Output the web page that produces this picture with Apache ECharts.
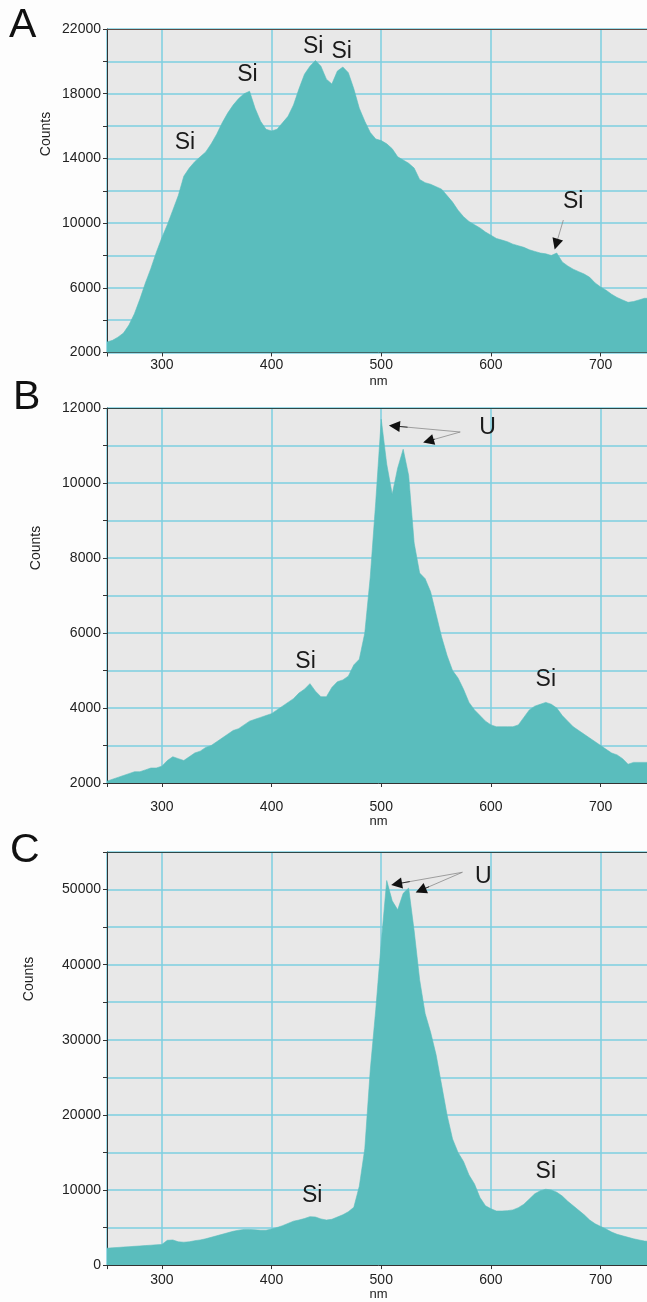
<!DOCTYPE html>
<html>
<head>
<meta charset="utf-8">
<script src="https://cdn.jsdelivr.net/npm/echarts@6/dist/echarts.min.js"></script>
<style>
  html, body { margin: 0; padding: 0; overflow: hidden; background: #fdfdfd; }
  #chart { width: 660px; height: 1302px; }
</style>
</head>
<body>
<div id="chart"></div>
<script>
// wavelength (nm) shared by the three spectra
const nm = [250, 255, 260, 265, 270, 275, 280, 285, 290, 295,
  300, 305, 310, 315, 320, 325, 330, 335, 340, 345,
  350, 355, 360, 365, 370, 375, 380, 385, 390, 395,
  400, 405, 410, 415, 420, 425, 430, 435, 440, 445,
  450, 455, 460, 465, 470, 475, 480, 485, 490, 495,
  500, 505, 510, 515, 520, 525, 530, 535, 540, 545,
  550, 555, 560, 565, 570, 575, 580, 585, 590, 595,
  600, 605, 610, 615, 620, 625, 630, 635, 640, 645,
  650, 655, 660, 665, 670, 675, 680, 685, 690, 695,
  700, 705, 710, 715, 720, 725, 730, 735, 740, 745];

const countsA = [2650, 2750, 2950, 3200, 3700, 4400, 5300, 6300, 7200, 8200,
  9100, 9900, 10800, 11700, 12900, 13400, 13800, 14100, 14400, 14900,
  15500, 16200, 16800, 17300, 17700, 18000, 18150, 17100, 16300, 15800,
  15700, 15800, 16200, 16600, 17300, 18300, 19200, 19700, 20050, 19700,
  18900, 18600, 19400, 19650, 19300, 18300, 17100, 16300, 15600, 15200,
  15100, 14900, 14600, 14100, 13900, 13700, 13400, 12700, 12500, 12400,
  12250, 12100, 11700, 11300, 10800, 10400, 10100, 9900, 9700, 9450,
  9250, 9050, 8950, 8850, 8700, 8600, 8500, 8350, 8250, 8150,
  8100, 8000, 8150, 7600, 7350, 7150, 7000, 6850, 6650, 6300,
  6050, 5850, 5600, 5400, 5250, 5100, 5150, 5250, 5350, 5350];

const countsB = [2050, 2100, 2150, 2200, 2250, 2300, 2300, 2350, 2400, 2400,
  2450, 2600, 2700, 2650, 2600, 2700, 2800, 2850, 2950, 3000,
  3100, 3200, 3300, 3400, 3450, 3550, 3650, 3700, 3750, 3800,
  3850, 3950, 4050, 4150, 4250, 4400, 4500, 4650, 4450, 4300,
  4300, 4550, 4700, 4750, 4850, 5150, 5300, 6000, 7500, 9500,
  11700, 10500, 9700, 10400, 10900, 10200, 8400, 7600, 7450, 7100,
  6500, 5900, 5400, 5000, 4800, 4500, 4150, 3950, 3800, 3650,
  3550, 3500, 3500, 3500, 3500, 3550, 3750, 3950, 4050, 4100,
  4150, 4100, 4000, 3800, 3650, 3500, 3400, 3300, 3200, 3100,
  3000, 2900, 2800, 2750, 2650, 2500, 2550, 2550, 2550, 2550];

const countsC = [2250, 2300, 2350, 2400, 2450, 2500, 2550, 2600, 2650, 2700,
  2750, 3300, 3350, 3100, 3050, 3100, 3250, 3350, 3500, 3700,
  3900, 4100, 4300, 4500, 4650, 4750, 4750, 4700, 4650, 4650,
  4800, 5000, 5250, 5550, 5850, 6000, 6200, 6450, 6400, 6150,
  6000, 6100, 6400, 6700, 7100, 7700, 10500, 15500, 26000, 34000,
  43000, 51200, 48500, 47300, 49500, 50200, 44500, 38000, 33500, 31000,
  28000, 24000, 20000, 16800, 15000, 13800, 12000, 10800, 9000, 7900,
  7500, 7200, 7200, 7250, 7350, 7650, 8100, 8800, 9500, 9900,
  10100, 10000, 9700, 9200, 8500, 7900, 7300, 6700, 6000, 5500,
  5150, 4800, 4400, 4100, 3900, 3700, 3500, 3350, 3200, 3150];

// tick labels
const xLabels = [300, 400, 500, 600, 700];
const yLabelsA = [2000, 6000, 10000, 14000, 18000, 22000];
const yLabelsB = [2000, 4000, 6000, 8000, 10000, 12000];
const yLabelsC = [0, 10000, 20000, 30000, 40000, 50000];

// peak annotations [nm, counts]
const siA = [[321, 14950], [378, 19200], [438, 20900], [464, 20570], [675, 11300]];
const siB = [[431, 5230], [650, 4750]];
const siC = [[437, 9280], [650, 12450]];
const uB = [[597, 11470]];
const uC = [[593, 51700]];
// arrows [from, to]
const arrowsA = [[[666, 10190], [659.5, 8700]]];
const arrowsB = [[[572, 11360], [512, 11520]], [[572, 11360], [543, 11120]]];
const arrowsC = [[[574, 52300], [514, 50750]], [[574, 52300], [536, 49900]]];

const FONT = '"Liberation Sans", Arial, sans-serif';
const TEAL = '#5abdbd';
const GRIDLINE = '#7dcfe0';

let myChart = echarts.init(document.getElementById('chart'), null, { renderer: 'canvas' });

// thin grey shaft + short black piece carrying the arrow head
function arrowLines(list) {
  const out = [];
  list.forEach(([from, to]) => {
    out.push([
      { coord: from, symbol: 'none', lineStyle: { color: '#8a8a8a', width: 0.8, type: 'solid' } },
      { coord: to, symbol: 'none' }
    ]);
    const near = [from[0] + (to[0] - from[0]) * 0.8, from[1] + (to[1] - from[1]) * 0.8];
    out.push([
      { coord: near, symbol: 'none', lineStyle: { color: '#111', width: 0.8, type: 'solid' } },
      { coord: to, symbol: 'triangle', symbolSize: 11 }
    ]);
  });
  return out;
}

function labelPoints(list, text) {
  return list.map(p => ({ coord: p, name: text }));
}

const panels = [
  { top: 29, height: 323.5, min: 2000, max: 22000, step: 2000, labels: yLabelsA, data: countsA,
    marks: labelPoints(siA, 'Si'), arrows: arrowsA, topColor: '#5e4b45', labelMargin: 6, nameGap: 22 },
  { top: 408, height: 375, min: 2000, max: 12000, step: 1000, labels: yLabelsB, data: countsB,
    marks: labelPoints(siB, 'Si').concat(labelPoints(uB, 'U')), arrows: arrowsB, topColor: '#2e4848', labelMargin: 17, nameGap: 30 },
  { top: 852, height: 415, min: 0, max: 55000, step: 5000, labels: yLabelsC, data: countsC,
    marks: labelPoints(siC, 'Si').concat(labelPoints(uC, 'U')), arrows: arrowsC, topColor: '#2e4848', labelMargin: 8, nameGap: 21 }
];

const grids = [], xAxes = [], yAxes = [], series = [];

panels.forEach((p, i) => {
  grids.push({
    left: 107, width: 543, top: p.top, height: p.height,
    show: true, backgroundColor: '#e8e8e8', borderWidth: 0
  });
  xAxes.push({
    type: 'value', gridIndex: i, position: 'bottom', min: 250, max: 745,
    minInterval: 100, maxInterval: 100,
    name: 'nm', nameLocation: 'middle', nameGap: p.nameGap,
    nameTextStyle: { fontFamily: FONT, fontSize: 13, color: '#222' },
    axisLine: { show: true, onZero: false, lineStyle: { color: '#333', width: 1 } },
    axisTick: { show: true, length: 4, lineStyle: { color: '#333' } },
    axisLabel: {
      margin: p.labelMargin, fontFamily: FONT, fontSize: 14, color: '#222',
      formatter: v => xLabels.includes(v) ? String(v) : ''
    },
    splitLine: { show: true, lineStyle: { color: GRIDLINE, width: 1.5 } }
  });
  xAxes.push({
    type: 'value', gridIndex: i, position: 'top', min: 250, max: 745,
    axisLine: { show: true, onZero: false, lineStyle: { color: p.topColor, width: 1.2 } },
    axisTick: { show: false }, axisLabel: { show: false }, splitLine: { show: false }
  });
  yAxes.push({
    type: 'value', gridIndex: i, min: p.min, max: p.max, interval: p.step,
    axisLine: { show: true, lineStyle: { color: '#333', width: 1 } },
    axisTick: { show: true, length: 4, lineStyle: { color: '#333' } },
    axisLabel: {
      margin: 6, fontFamily: FONT, fontSize: 14, color: '#222',
      formatter: v => p.labels.includes(v) ? String(v) : ''
    },
    splitLine: { show: true, lineStyle: { color: GRIDLINE, width: 1.5 } }
  });
  series.push({
    type: 'line', xAxisIndex: i * 2, yAxisIndex: i,
    data: nm.map((x, j) => [x, p.data[j]]),
    symbol: 'none', showSymbol: false,
    lineStyle: { width: 0.6, color: TEAL },
    areaStyle: { color: TEAL, opacity: 1, origin: 'start' },
    markPoint: {
      silent: true, symbol: 'circle', symbolSize: 1,
      itemStyle: { color: 'rgba(0,0,0,0)' },
      label: { show: true, position: 'inside', formatter: '{b}', fontFamily: FONT, fontSize: 23, color: '#1a1a1a' },
      data: p.marks
    },
    markLine: {
      silent: true, animation: false, label: { show: false },
      data: arrowLines(p.arrows)
    }
  });
});

const textStyle = (text, size, extra) => Object.assign({ text: text, fontFamily: FONT, fontSize: size, fill: '#111' }, extra);

myChart.setOption({
  animation: false,
  grid: grids,
  xAxis: xAxes,
  yAxis: yAxes,
  series: series,
  graphic: [
    { type: 'text', x: 9, y: 26, style: textStyle('A', 41, { verticalAlign: 'middle' }) },
    { type: 'text', x: 13, y: 398, style: textStyle('B', 41, { verticalAlign: 'middle' }) },
    { type: 'text', x: 10, y: 851, style: textStyle('C', 41, { verticalAlign: 'middle' }) },
    { type: 'text', x: 46, y: 134, rotation: Math.PI / 2, style: textStyle('Counts', 14, { align: 'center', verticalAlign: 'middle', fill: '#222' }) },
    { type: 'text', x: 36, y: 548, rotation: Math.PI / 2, style: textStyle('Counts', 14, { align: 'center', verticalAlign: 'middle', fill: '#222' }) },
    { type: 'text', x: 29, y: 979, rotation: Math.PI / 2, style: textStyle('Counts', 14, { align: 'center', verticalAlign: 'middle', fill: '#222' }) }
  ]
});

window.addEventListener('resize', myChart.resize);
</script>
</body>
</html>
